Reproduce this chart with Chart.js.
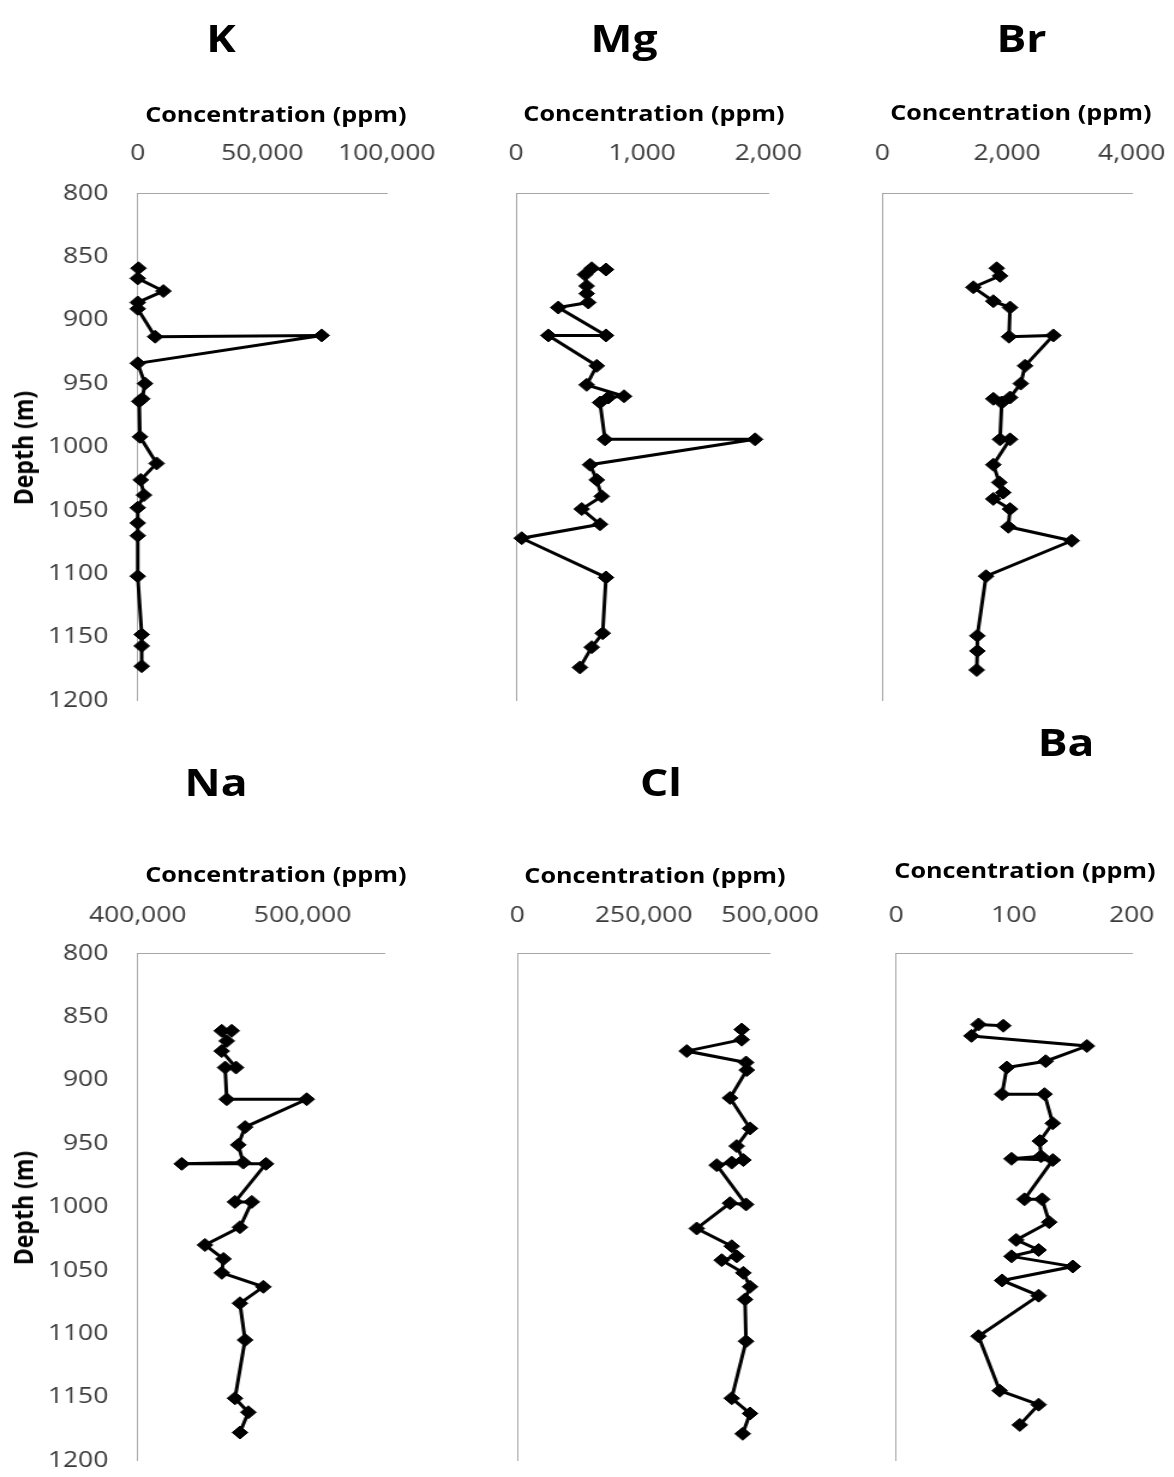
<!DOCTYPE html>
<html><head><meta charset="utf-8">
<script src="https://cdn.jsdelivr.net/npm/chart.js@4.4.1/dist/chart.umd.min.js"></script>
<style>
html,body{margin:0;padding:0;background:#fff;}
body{width:1174px;height:1477px;overflow:hidden;position:relative;}
#stage{position:absolute;left:0;top:0;width:979px;height:1477px;transform:scaleX(1.2);transform-origin:0 0;}
canvas{position:absolute;}
.t{position:absolute;white-space:nowrap;font-family:'Open Sans',sans-serif;font-weight:700;color:#000;transform:translate(-50%,-50%);line-height:1;}
.title{font-size:37px;}
.axt{font-size:21px;}
.dep{font-size:23px;transform:translate(-50%,-50%) rotate(-90deg);}
</style></head><body><div id="stage"></div>
<script>
// ---------------- data ----------------
const depthTicks = [800, 850, 900, 950, 1000, 1050, 1100, 1150, 1200];

const kTicks = [0, 50000, 100000];
const kDepth = [859, 867, 877, 886, 891, 913, 912, 934, 950, 962, 964, 992, 1013, 1026, 1038, 1048, 1060, 1070, 1102, 1148, 1157, 1173];
const kValue = [300, 0, 10300, 0, 0, 7000, 73900, 0, 2900, 1800, 600, 900, 7600, 1200, 2500, 0, 0, 0, 0, 1600, 1600, 1600];

const mgTicks = [0, 1000, 2000];
const mgDepth = [860, 859, 864, 873, 879, 886, 890, 912, 912, 936, 951, 960, 961, 965, 994, 994, 1014, 1026, 1039, 1049, 1061, 1072, 1103, 1147, 1158, 1174];
const mgValue = [713, 600, 547, 560, 560, 573, 335, 713, 256, 640, 560, 856, 732, 666, 705, 1895, 587, 640, 679, 521, 666, 45, 713, 687, 600, 507];

const brTicks = [0, 2000, 4000];
const brDepth = [859, 865, 874, 885, 890, 913, 912, 936, 950, 961, 962, 965, 994, 994, 1014, 1028, 1036, 1041, 1049, 1063, 1074, 1102, 1149, 1161, 1176];
const brValue = [1835, 1888, 1460, 1780, 2048, 2032, 2743, 2289, 2220, 2048, 1780, 1915, 1888, 2048, 1780, 1876, 1940, 1780, 2048, 2021, 3037, 1663, 1524, 1524, 1514];

const naTicks = [400000, 500000];
const naDepth = [861, 861, 869, 877, 890, 890, 915, 915, 937, 951, 965, 966, 966, 996, 996, 1016, 1030, 1041, 1052, 1063, 1076, 1105, 1151, 1162, 1178];
const naValue = [457000, 450950, 454000, 450950, 459600, 453000, 454000, 502500, 465100, 461000, 464000, 426700, 477800, 459000, 469200, 462000, 440800, 452000, 451000, 476200, 462000, 465100, 459000, 467100, 462000];

const clTicks = [0, 250000, 500000];
const clDepth = [860, 868, 877, 886, 892, 914, 938, 952, 963, 965, 967, 998, 997, 1017, 1031, 1039, 1042, 1052, 1063, 1073, 1106, 1151, 1163, 1179];
const clValue = [444000, 444000, 335200, 452500, 453900, 420800, 460400, 434100, 447200, 424200, 394500, 452500, 420800, 355000, 424200, 434100, 404400, 447200, 460400, 450500, 452500, 424200, 460400, 446000];

const baTicks = [0, 100, 200];
const baDepth = [857, 856, 865, 873, 885, 890, 911, 911, 934, 948, 960, 962, 963, 994, 994, 1012, 1026, 1034, 1039, 1047, 1058, 1070, 1102, 1145, 1156, 1172];
const baValue = [91, 70, 64, 162, 127, 94, 90, 126, 133, 122, 123, 98, 133, 109, 124, 130, 102, 121, 98, 150, 90, 121, 70, 88, 121, 105];

// ---------------- layout (final page pixels) ----------------
const S = 1.2;
const panels = [
  {name:'K',  depth:kDepth,  value:kValue,  ticks:kTicks,  min:0, max:100000, L:137.7, R:386.7, T:193.5, B:700.4, showY:true,
   title:[221,37], axt:[275.8,113.5], dep:[23,448], tickPad:26.5},
  {name:'Mg', depth:mgDepth, value:mgValue, ticks:mgTicks, min:0, max:2000, L:516, R:768.3, T:193.5, B:700.4, showY:false,
   title:[624,37], axt:[654,112.5], tickPad:26.5},
  {name:'Br', depth:brDepth, value:brValue, ticks:brTicks, min:0, max:4000, L:882.3, R:1131.7, T:193.5, B:700.4, showY:false,
   title:[1021.5,37], axt:[1020.8,111.5], tickPad:26.5},
  {name:'Na', depth:naDepth, value:naValue, ticks:naTicks, min:400000, max:550000, L:137.7, R:385, T:953.5, B:1460.4, showY:true,
   title:[216,781], axt:[275.8,874], dep:[23,1208], tickPad:24.5},
  {name:'Cl', depth:clDepth, value:clValue, ticks:clTicks, min:0, max:500000, L:517.3, R:770, T:953.5, B:1460.4, showY:false,
   title:[661,781], axt:[655,875], tickPad:24.5},
  {name:'Ba', depth:baDepth, value:baValue, ticks:baTicks, min:0, max:200, L:896, R:1131.7, T:953.5, B:1460.4, showY:false,
   title:[1066,741], axt:[1025,870], tickPad:24.5}
];

const stage = document.getElementById('stage');
const fmt = v => Number(v).toLocaleString('en-US');
const tickFont = {family:"'Open Sans', sans-serif", size:22};
const axisColor = '#a6a6a6';

function addText(cls, txt, fx, fy){
  const d = document.createElement('div');
  d.className = 't ' + cls;
  d.textContent = txt;
  d.style.left = (fx / S) + 'px';
  d.style.top = fy + 'px';
  stage.appendChild(d);
}

panels.forEach(p => {
  const Lu = p.L / S, Ru = p.R / S;
  const canvasLeft = p.showY ? 0 : Math.floor(Lu - 30);
  const yW = Lu - canvasLeft;
  const plotW = Ru - Lu;
  const width = Math.ceil(yW + plotW + 55);
  const padR = width - yW - plotW;
  const canvasTop = Math.floor(p.T - 75);
  const xH = p.T - canvasTop;
  const plotH = p.B - p.T;
  const height = Math.ceil(xH + plotH + 25);
  const padB = height - xH - plotH;

  const cv = document.createElement('canvas');
  cv.width = width; cv.height = height;
  cv.style.left = canvasLeft + 'px';
  cv.style.top = canvasTop + 'px';
  cv.style.width = width + 'px';
  cv.style.height = height + 'px';
  stage.appendChild(cv);

  new Chart(cv, {
    type: 'scatter',
    data: {
      datasets: [{
        data: p.depth.map((d, i) => ({x: p.value[i], y: d})),
        showLine: true,
        borderColor: '#000',
        backgroundColor: '#000',
        borderWidth: 3,
        pointStyle: 'rectRot',
        pointRadius: 6.5,
        pointBorderWidth: 1,
        pointBackgroundColor: '#000',
        pointBorderColor: '#000',
        tension: 0,
        clip: false
      }]
    },
    options: {
      responsive: false,
      maintainAspectRatio: false,
      animation: false,
      devicePixelRatio: 1,
      events: [],
      layout: {padding: {left: 0, right: padR, top: 0, bottom: padB}},
      plugins: {legend: {display: false}, tooltip: {enabled: false}, title: {display: false}},
      scales: {
        x: {
          type: 'linear', position: 'top', min: p.min, max: p.max,
          grid: {display: false, drawTicks: false},
          border: {display: true, color: axisColor, width: 1},
          ticks: {font: tickFont, color: '#3a3a3a', padding: p.tickPad, maxRotation: 0, autoSkip: false, callback: v => fmt(v)},
          afterBuildTicks: s => { s.ticks = p.ticks.map(v => ({value: v})); },
          afterFit: s => { s.height = xH; s.paddingLeft = 0; s.paddingRight = 0; }
        },
        y: {
          type: 'linear', position: 'left', reverse: true, min: 800, max: 1200,
          grid: {display: false, drawTicks: false},
          border: {display: true, color: axisColor, width: 1},
          ticks: {display: p.showY, font: tickFont, color: '#3a3a3a', padding: 24.5, autoSkip: false, callback: v => String(v)},
          afterBuildTicks: s => { s.ticks = depthTicks.map(v => ({value: v})); },
          afterFit: s => { s.width = yW; s.paddingTop = 0; s.paddingBottom = 0; }
        }
      }
    }
  });

  addText('title', p.name, p.title[0], p.title[1]);
  addText('axt', 'Concentration (ppm)', p.axt[0], p.axt[1]);
  if (p.dep) addText('dep', 'Depth (m)', p.dep[0], p.dep[1]);
});
</script>
</body></html>
